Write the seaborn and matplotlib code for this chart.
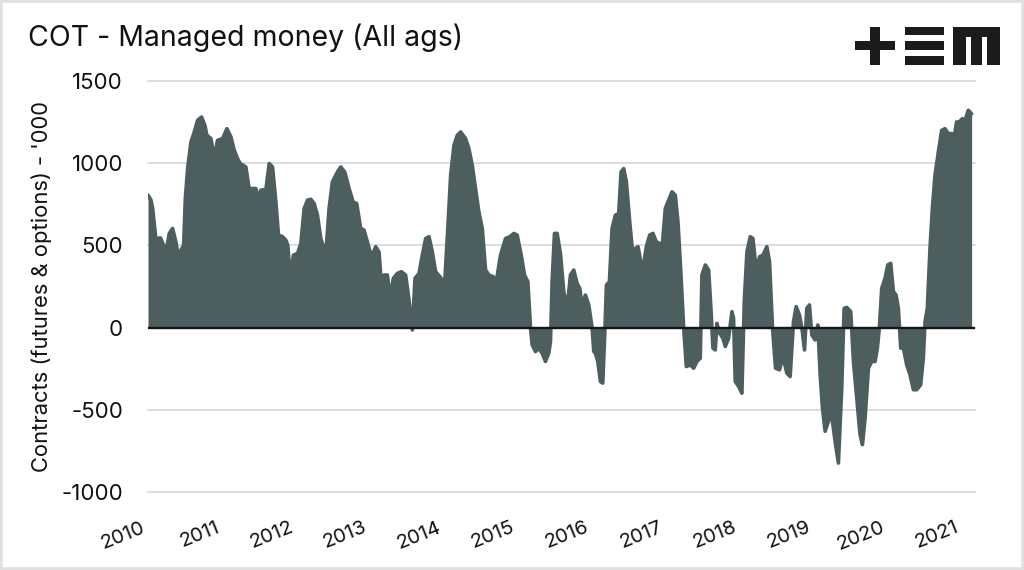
import numpy as np
import pandas as pd
import matplotlib
matplotlib.use("Agg")
import matplotlib.pyplot as plt
import seaborn as sns
from matplotlib.patches import Rectangle

# ---------------- data ----------------
title = "COT - Managed money (All ags)"
y_label = "Contracts (futures & options) - '000"
base_year = 2010
year_ticks = list(range(2010, 2022))
year_labels = [str(y) for y in year_ticks]
y_ticks = [-1000, -500, 0, 500, 1000, 1500]
y_tick_labels = ["-1000", "-500", "0", "500", "1000", "1500"]

years_after_2010 = [
    0.000, 0.041, 0.063, 0.108, 0.131, 0.167, 0.221, 0.257, 0.288, 0.333,
    0.378, 0.414, 0.446, 0.482, 0.505, 0.536, 0.581, 0.626, 0.671, 0.725,
    0.770, 0.797, 0.851, 0.896, 0.941, 1.009, 1.068, 1.122, 1.167, 1.212,
    1.248, 1.324, 1.369, 1.459, 1.491, 1.527, 1.595, 1.640, 1.685, 1.730,
    1.766, 1.820, 1.865, 1.892, 1.923, 1.968, 2.023, 2.068, 2.113, 2.158,
    2.203, 2.248, 2.293, 2.338, 2.383, 2.410, 2.450, 2.495, 2.563, 2.608,
    2.662, 2.721, 2.775, 2.824, 2.878, 2.923, 2.968, 3.023, 3.081, 3.126,
    3.158, 3.194, 3.239, 3.275, 3.320, 3.374, 3.428, 3.486, 3.532, 3.577,
    3.613, 3.667, 3.712, 3.757, 3.802, 3.847, 3.892, 3.950, 4.014, 4.059,
    4.095, 4.140, 4.185, 4.230, 4.297, 4.342, 4.387, 4.432, 4.477, 4.523,
    4.568, 4.613, 4.671, 4.712, 4.770, 4.838, 4.896, 4.950, 4.995, 5.050,
    5.095, 5.140, 5.176, 5.198, 5.243, 5.288, 5.333, 5.378, 5.423, 5.446,
    5.468, 5.500, 5.536, 5.581, 5.626, 5.671, 5.716, 5.761, 5.806, 5.842,
    5.874, 5.919, 5.964, 6.009, 6.032, 6.054, 6.086, 6.122, 6.153, 6.180,
    6.203, 6.243, 6.279, 6.324, 6.369, 6.401, 6.437, 6.473, 6.518, 6.563,
    6.595, 6.631, 6.671, 6.707, 6.743, 6.788, 6.833, 6.878, 6.923, 6.955,
    7.000, 7.045, 7.090, 7.135, 7.171, 7.212, 7.248, 7.284, 7.338, 7.383,
    7.428, 7.473, 7.495, 7.541, 7.586, 7.617, 7.644, 7.676, 7.698, 7.734,
    7.779, 7.811, 7.856, 7.901, 7.923, 7.946, 7.991, 8.036, 8.068, 8.104,
    8.149, 8.185, 8.230, 8.275, 8.320, 8.374, 8.410, 8.450, 8.491, 8.545,
    8.590, 8.644, 8.689, 8.734, 8.770, 8.815, 8.847, 8.883, 8.914, 8.950,
    8.982, 9.027, 9.063, 9.095, 9.126, 9.162, 9.207, 9.243, 9.297, 9.342,
    9.387, 9.419, 9.455, 9.509, 9.545, 9.590, 9.635, 9.667, 9.703, 9.748,
    9.793, 9.838, 9.869, 9.896, 9.928, 9.973, 10.009, 10.050, 10.086, 10.122,
    10.153, 10.185, 10.221, 10.266, 10.311, 10.356, 10.401, 10.455, 10.491, 10.514,
    10.545, 10.581, 10.613, 10.649, 10.694, 10.739, 10.784, 10.829, 10.874, 10.905,
    10.941, 10.977, 11.018, 11.054, 11.099, 11.144,
]

net_position = [
    806, 775, 725, 532, 542, 546, 492, 495, 573, 603,
    520, 425, 472, 500, 785, 967, 1129, 1190, 1261, 1281,
    1230, 1170, 1150, 1038, 1139, 1150, 1210, 1160, 1079, 1028,
    998, 977, 846, 846, 785, 836, 840, 998, 977, 765,
    563, 553, 532, 500, 310, 441, 451, 512, 725, 775,
    781, 755, 684, 542, 482, 472, 725, 886, 947, 977,
    947, 846, 765, 755, 603, 593, 522, 431, 492, 460,
    269, 320, 320, 188, 300, 330, 340, 320, 168, -14,
    300, 330, 441, 542, 553, 461, 340, 310, 269, 623,
    927, 1109, 1170, 1190, 1150, 1089, 988, 846, 704, 603,
    350, 320, 310, 279, 441, 542, 553, 573, 563, 441,
    320, 279, -4, -105, -146, -125, -156, -206, -156, -85,
    279, 573, 573, 450, 219, 117, 320, 350, 269, 239,
    138, 198, 138, 0, -146, -156, -206, -328, -338, -45,
    259, 279, 603, 684, 694, 947, 967, 886, 644, 431,
    482, 492, 391, 391, 492, 563, 573, 522, 512, 482,
    725, 775, 826, 805, 644, 320, 0, -237, -227, -247,
    -206, -186, 320, 381, 350, 117, -125, -136, 26, -34,
    -65, -115, -65, 97, 57, -328, -358, -399, 158, 461,
    553, 542, 350, 431, 441, 492, 400, 0, -247, -257,
    -176, -277, -298, 36, 128, 77, 0, -136, 117, 138,
    -45, -75, 16, -287, -490, -631, -571, -510, -692, -824,
    -368, 117, 123, 97, -206, -429, -652, -712, -550, -247,
    -206, -206, -125, 0, 239, 300, 381, 391, 219, 198,
    117, -125, -125, -227, -287, -378, -378, -348, -186, 36,
    117, 482, 725, 927, 1069, 1200, 1210, 1180, 1180, 1150,
    1251, 1251, 1271, 1260, 1322, 1301,
]

# ---------------- styling ----------------
sns.set_theme(style="white")
plt.rcParams['font.family'] = ['Inter', 'DejaVu Sans']

W, H = 1024, 570
fig = plt.figure(figsize=(W / 100, H / 100), dpi=100)
fig.patch.set_facecolor("white")

left, right, top, bottom = 148, 975, 81, 492
ax = fig.add_axes([left / W, 1 - bottom / H, (right - left) / W, (bottom - top) / H])

df = pd.DataFrame({
    "year": base_year + np.array(years_after_2010, dtype=float),
    "net": net_position,
})

area_color = "#4c5e5e"
ax.fill_between(df["year"], df["net"], 0, color=area_color, lw=0, zorder=2)
sns.lineplot(data=df, x="year", y="net", ax=ax, color=area_color, lw=2.6,
             zorder=3, solid_joinstyle="round", solid_capstyle="round",
             sort=True, legend=False)
ax.axhline(0, color="#151515", lw=1.7, zorder=4)

ax.set_ylim(-1000, 1500)
ax.set_xlim(2010, 2021.19)
ax.set_yticks(y_ticks)
ax.set_yticklabels(y_tick_labels)
ax.set_xticks(year_ticks)
ax.set_xticklabels(year_labels)

ax.yaxis.grid(True, color="#dadada", lw=1.3)
ax.xaxis.grid(False)
ax.set_axisbelow(True)
for gl in ax.get_ygridlines():
    gl.set_clip_on(False)
for s in ax.spines.values():
    s.set_visible(False)

ax.tick_params(axis="y", length=0, pad=18, labelsize=16, labelcolor="#111111")
ax.tick_params(axis="x", length=0, pad=19, labelsize=14.5, labelcolor="#111111")
plt.setp(ax.get_xticklabels(), rotation=22, ha="right")
ax.set_xlabel("")
ax.set_ylabel("")

# y label
fig.text(42 / W, 1 - 286 / H, y_label, rotation=90, ha="center", va="center",
         fontsize=15.8, color="#111111")

# title
fig.text(28 / W, 1 - 46 / H, title, ha="left", va="baseline",
         fontsize=20.5, color="#111111")

# logo (+EM) drawn as simple blocks
logo_color = "#1c1a1a"
def px_rect(x0, y0, x1, y1):
    fig.patches.append(Rectangle((x0 / W, 1 - y1 / H), (x1 - x0) / W, (y1 - y0) / H,
                                 transform=fig.transFigure, color=logo_color, lw=0))
# plus
px_rect(855, 41, 895, 50)
px_rect(870, 27, 880, 65)
# three bars (E)
px_rect(905, 27, 944, 35)
px_rect(905, 41, 944, 50)
px_rect(905, 56, 944, 65)
# m
px_rect(953, 27, 1000, 37)
px_rect(953, 27, 966, 65)
px_rect(971, 27, 982, 65)
px_rect(987, 27, 1000, 65)

# figure border
fig.patches.append(Rectangle((0, 0), 1, 1, transform=fig.transFigure, fill=False,
                             edgecolor="#e0e0e0", lw=4))

fig.savefig("out.png", dpi=100, facecolor="white")
